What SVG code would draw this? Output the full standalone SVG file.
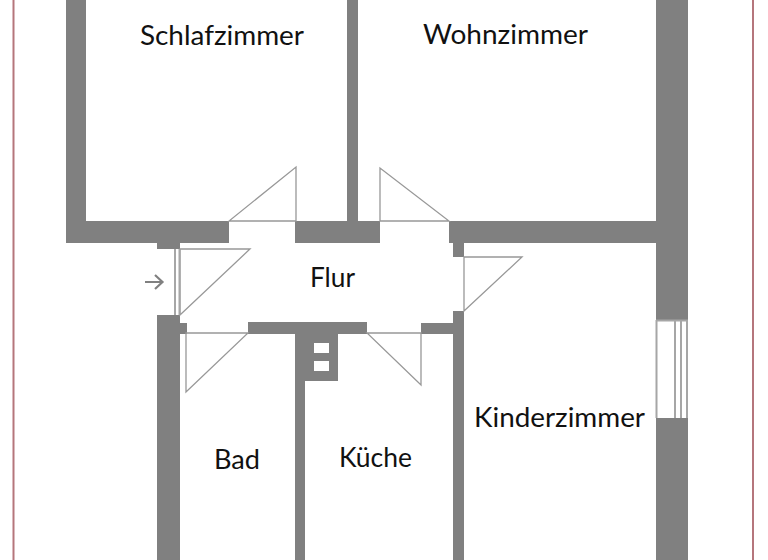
<svg xmlns="http://www.w3.org/2000/svg" width="768" height="560" viewBox="0 0 768 560">
<style>
.w{fill:#808080}
.h{fill:#fff}
.l{fill:none;stroke:#989898;stroke-width:1.3}
.b{fill:none;stroke:#a6a6a6;stroke-width:2}
.t{font-family:Lato,"Open Sans",sans-serif;font-size:27px;fill:#111}
.r{fill:none;stroke:#b5767c;stroke-width:2}
</style>
<rect width="768" height="560" fill="#fff"/>
<path class="r" d="M13.500 0V560M753 0V560"/>
<g id="walls">
<path class="w" d="M66 0H86V221H229V243H180V249H157V243H66Z"/>
<path class="w" d="M347 0H358V221H380V243H295V221H347Z"/>
<path class="w" d="M449 221H656V0H688V320H656V243H464V257H453V243H449Z"/>
<rect class="w" x="656" y="418" width="32" height="142"/>
<path class="w" d="M157 315H180V323H187V334H180V560H157Z"/>
<path class="w" d="M248 322H367V334H338V381H305V560H295V334H248Z"/>
<rect class="h" x="314" y="343" width="15" height="10"/>
<rect class="h" x="314" y="361" width="15" height="10"/>
<path class="w" d="M421 323H453V311H464V560H453V334H421Z"/>
</g>
<g id="window">
<path class="b" d="M656.500 320V418M675 320V418M681 320V418M687 320V418M656 320.500H688"/>
</g>
<g id="connectors">
<path class="l" d="M229 221H296V167Z"/>
<path class="l" d="M380 221V168L449 221Z"/>
<path class="l" d="M464 257H522L464 311Z"/>
<path class="l" d="M180 249H250L180 315Z"/>
<path class="l" d="M186 333H248L186 392Z"/>
<path class="l" d="M367 333H421V385Z"/>
<path class="b" d="M175 249V315M179.500 249V315"/>
<path fill="none" stroke="#808080" stroke-width="2.200" d="M145 282H162M155 275L162.500 282L155 289"/>
</g>
<g id="schlafzimmer"><text class="t" x="140" y="45" textLength="164" lengthAdjust="spacingAndGlyphs">Schlafzimmer</text></g>
<g id="wohnzimmer"><text class="t" x="423" y="44" textLength="165" lengthAdjust="spacingAndGlyphs">Wohnzimmer</text></g>
<g id="flur"><text class="t" x="310" y="287" textLength="45" lengthAdjust="spacingAndGlyphs">Flur</text></g>
<g id="kinderzimmer"><text class="t" x="474" y="427" textLength="171" lengthAdjust="spacingAndGlyphs">Kinderzimmer</text></g>
<g id="bad"><text class="t" x="214" y="469" textLength="46" lengthAdjust="spacingAndGlyphs">Bad</text></g>
<g id="kueche"><text class="t" x="339" y="467" textLength="73" lengthAdjust="spacingAndGlyphs">Küche</text></g>
</svg>
